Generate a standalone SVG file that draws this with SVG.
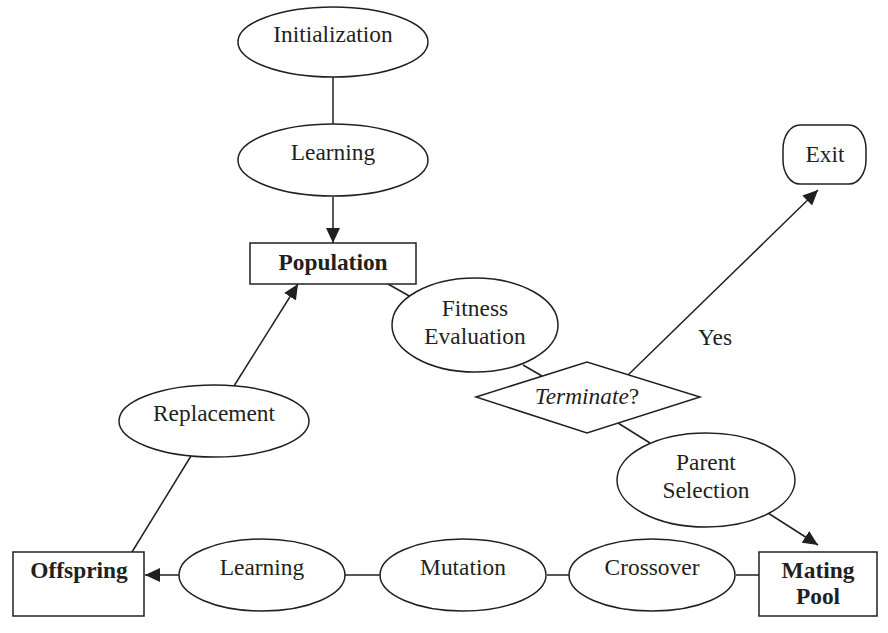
<svg xmlns="http://www.w3.org/2000/svg" width="888" height="633" viewBox="0 0 888 633">
<style>
.s{fill:#fff;stroke:#231f20;stroke-width:1.5}
.t{font-family:"Liberation Serif","Times New Roman",serif;font-size:23.4px;fill:#231f20;text-anchor:middle}
.b{font-weight:bold}
.c{stroke:#231f20;stroke-width:1.5;fill:none}
</style>
<defs>
<marker id="ah" markerUnits="userSpaceOnUse" markerWidth="16" markerHeight="14" refX="15" refY="7" orient="auto">
<path d="M0,0 L15,7 L0,14 z" fill="#231f20"/>
</marker>
</defs>
<rect width="888" height="633" fill="#fff"/>
<g id="connectors">
<line class="c" x1="333" y1="77" x2="333" y2="124"/>
<line class="c" x1="333" y1="197" x2="333" y2="243" marker-end="url(#ah)"/>
<line class="c" x1="388" y1="284" x2="411" y2="297"/>
<line class="c" x1="523" y1="365" x2="542" y2="376"/>
<line class="c" x1="628" y1="375" x2="818" y2="190" marker-end="url(#ah)"/>
<line class="c" x1="618" y1="423" x2="650" y2="443"/>
<line class="c" x1="768" y1="513" x2="818" y2="545" marker-end="url(#ah)"/>
<line class="c" x1="736" y1="575" x2="759" y2="575"/>
<line class="c" x1="547" y1="575" x2="569" y2="575"/>
<line class="c" x1="345" y1="575" x2="380" y2="575"/>
<line class="c" x1="179" y1="575" x2="145" y2="575" marker-end="url(#ah)"/>
<line class="c" x1="132" y1="552" x2="191" y2="456"/>
<line class="c" x1="234" y1="386" x2="298" y2="284" marker-end="url(#ah)"/>
</g>
<g id="initialization">
<ellipse class="s" cx="333" cy="42" rx="95" ry="35"/>
<text class="t" x="333" y="42">Initialization</text>
</g>
<g id="learning-top">
<ellipse class="s" cx="333" cy="160" rx="95" ry="36"/>
<text class="t" x="333" y="160">Learning</text>
</g>
<g id="population">
<rect class="s" x="250" y="243" width="166" height="41"/>
<text class="t b" x="333" y="270">Population</text>
</g>
<g id="fitness">
<ellipse class="s" cx="475" cy="325" rx="83" ry="47"/>
<text class="t" x="475" y="316">Fitness</text>
<text class="t" x="475" y="344">Evaluation</text>
</g>
<g id="terminate">
<polygon class="s" points="476,397 587,362 700,397 587,433"/>
<text class="t" x="587" y="404"><tspan font-style="italic">Terminate</tspan>?</text>
</g>
<g id="exit">
<rect class="s" x="783" y="125" width="83" height="59" rx="17" ry="24"/>
<text class="t" x="825" y="162">Exit</text>
</g>
<text class="t" x="715" y="345">Yes</text>
<g id="parent-selection">
<ellipse class="s" cx="706" cy="480" rx="89" ry="47"/>
<text class="t" x="706" y="470">Parent</text>
<text class="t" x="706" y="498">Selection</text>
</g>
<g id="mating-pool">
<rect class="s" x="759" y="552" width="118" height="64"/>
<text class="t b" x="818" y="578">Mating</text>
<text class="t b" x="818" y="604">Pool</text>
</g>
<g id="crossover">
<ellipse class="s" cx="652" cy="575" rx="83" ry="36"/>
<text class="t" x="652" y="575">Crossover</text>
</g>
<g id="mutation">
<ellipse class="s" cx="463" cy="575" rx="83" ry="36"/>
<text class="t" x="463" y="575">Mutation</text>
</g>
<g id="learning-bottom">
<ellipse class="s" cx="262" cy="575" rx="83" ry="36"/>
<text class="t" x="262" y="575">Learning</text>
</g>
<g id="offspring">
<rect class="s" x="13" y="552" width="131" height="64"/>
<text class="t b" x="79" y="578">Offspring</text>
</g>
<g id="replacement">
<ellipse class="s" cx="214" cy="421" rx="95" ry="36"/>
<text class="t" x="214" y="421">Replacement</text>
</g>
</svg>
